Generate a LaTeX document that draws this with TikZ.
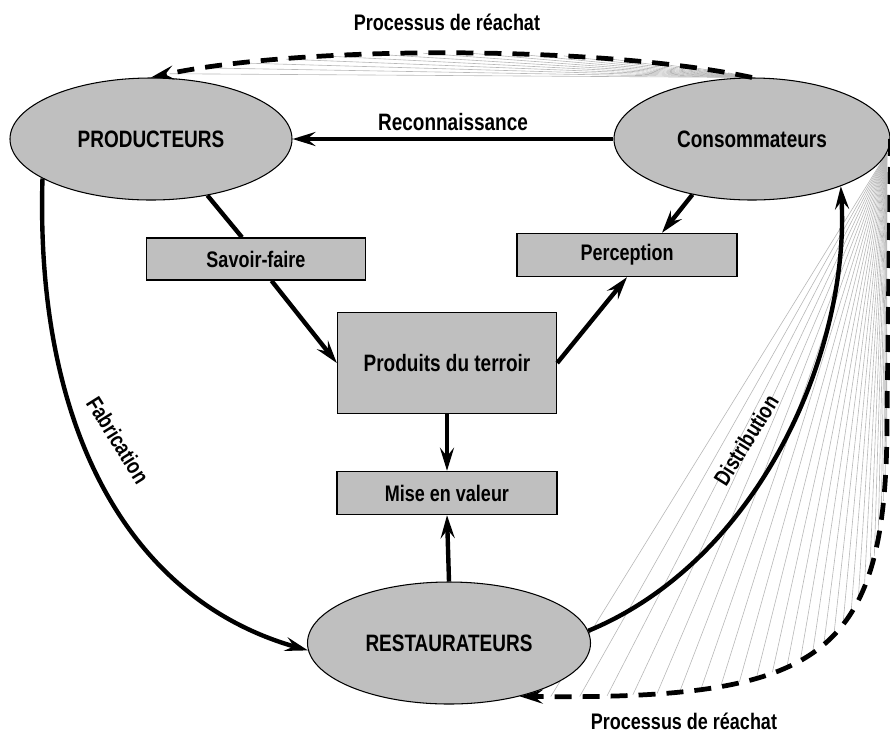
\documentclass[tikz,border=0pt]{standalone}
\usepackage{fontspec}
\setmainfont{Liberation Sans}[FakeStretch=0.8]
\usepackage{tikz}
\usetikzlibrary{arrows.meta, shapes.geometric, backgrounds}
\definecolor{grisfond}{gray}{0.75}
\definecolor{grisfil}{gray}{0.72}

\begin{document}
\begin{tikzpicture}[x=0.2mm, y=-0.2mm,
            acteur/.style={ellipse, draw=black, line width=0.6pt, fill=grisfond, inner sep=0pt,
                font=\fontsize{13.5}{16}\selectfont\bfseries},
            etape/.style={rectangle, draw=black, line width=0.8pt, fill=grisfond, inner sep=0pt,
                font=\fontsize{12.8}{15}\selectfont\bfseries},
            legende/.style={font=\fontsize{12.8}{15}\selectfont\bfseries},
            trait/.style={black, line width=2.5pt},
            fleche/.style={trait, -{Stealth[length=4.6mm, width=2.8mm, inset=1.7mm]}},
            reachat/.style={fleche, line width=2.7pt, dash pattern=on 3.4mm off 2.2mm},
            rayon/.style={grisfil, line width=0.35pt}]
            \useasboundingbox (0,0) rectangle (890,732);

            \node[acteur, minimum width=56.4mm, minimum height=24.4mm] (prod) at (151,139) {PRODUCTEURS};
            \node[acteur, minimum width=55.2mm, minimum height=24.4mm] (cons) at (752,139) {Consommateurs};
            \node[acteur, minimum width=56.6mm, minimum height=24.4mm] (rest) at (449,643) {RESTAURATEURS};

            \node[etape, minimum width=43.8mm, minimum height=8.4mm] (savoir) at (256,259) {Savoir-faire};
            \node[etape, minimum width=44mm, minimum height=8.6mm] (perception) at (627,255) {Perception};
            \node[etape, minimum width=43.8mm, minimum height=20.2mm,
                font=\fontsize{13.5}{16}\selectfont\bfseries] (produits) at (447,363) {Produits du terroir};
            \node[etape, minimum width=44mm, minimum height=8.6mm] (valeur) at (447,493) {Mise en valeur};

            \coordinate (coin) at (887,420);

            \begin{scope}[on background layer]
                \foreach \t in {0.05,0.12,...,0.96} {
                    \path (cons.north) .. controls (600,45) and (300,45) .. (prod.north) coordinate[pos=\t] (haut);
                    \draw[rayon] (cons.north) -- (haut);
                }
                \foreach \t in {0.02,0.055,...,0.99} {
                    \path (coin) .. controls (887,660) and (820,700) .. (rest.-37) coordinate[pos=\t] (bas);
                    \draw[rayon] (cons.-6) -- (bas);
                }
            \end{scope}

            \draw[fleche] (cons.west) -- (prod.east)
                node[midway, above, inner sep=1.2mm, font=\fontsize{13.5}{16}\selectfont\bfseries] (lblreco) {Reconnaissance};

            \draw[trait] (prod.-45) -- ([xshift=-2.8mm]savoir.north);
            \draw[fleche] ([xshift=3.1mm]savoir.south) -- (produits.west);

            \draw[fleche] (cons.-137) -- ([xshift=7mm]perception.north);
            \draw[fleche] (produits.east) -- (perception.south);

            \draw[fleche] (produits.south) -- (valeur.north);
            \draw[fleche] (rest.north) -- (valeur.south);

            \draw[fleche] (prod.200) .. controls (35,430) and (130,600) .. (rest.183);
            \draw[fleche] (rest.5) .. controls (760,560) and (850,350) .. (cons.-28);

            \draw[reachat] (cons.north) .. controls (600,45) and (300,45) .. (prod.north);
            \draw[reachat] (cons.east) -- (coin) .. controls (887,660) and (820,700) .. (rest.-37);

            \node[legende] (lblhaut) at (447,22) {Processus de réachat};
            \node[legende] (lblbas) at (684,721) {Processus de réachat};
            \node[legende, rotate=-58] (lblfab) at (118,440) {Fabrication};
            \node[legende, rotate=58] (lbldist) at (746,440) {Distribution};
        \end{tikzpicture}
\end{document}
